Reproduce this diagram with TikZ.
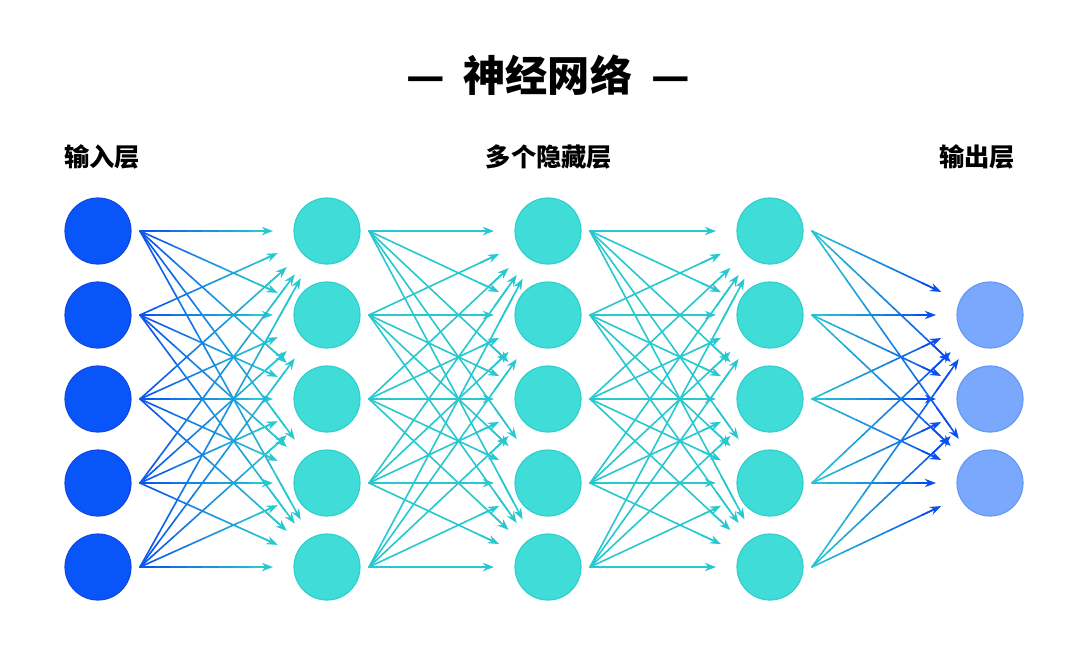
\documentclass[tikz,border=0pt]{standalone}
\usepackage{fontspec}
\newfontfamily\cjk{Noto Sans CJK SC}
\usepackage{xcolor}
\usepackage{tikz}
\usetikzlibrary{arrows.meta,calc}

\definecolor{inblue}{RGB}{8,86,250}
\definecolor{inedge}{RGB}{20,70,230}
\definecolor{hidfill}{RGB}{64,220,216}
\definecolor{hidedge}{RGB}{48,206,204}
\definecolor{outfill}{RGB}{122,168,252}
\definecolor{outedge}{RGB}{98,152,246}
\definecolor{arrblue}{RGB}{10,80,240}
\definecolor{arrcyan}{RGB}{40,200,208}

% gradient arrow: #1 from node, #2 to node, #3 start colour, #4 end colour
\newcommand{\gradarrow}[4]{%
  \coordinate (ga-s) at ($(#1)+(42,0)$);
  \coordinate (ga-e) at ($(#2)!1.35cm!(ga-s)$);
  \coordinate (ga-m) at ($(ga-s)!0.94!(ga-e)$);
  \foreach \k in {0,...,7}{
    \pgfmathtruncatemacro\pct{100*(\k+0.5)/8}
    \draw[wire, #4!\pct!#3] ($(ga-s)!\k/8!(ga-m)$) -- ($(ga-s)!{(\k+1)/8}!(ga-m)$);
  }
  \draw[wire, line cap=butt, #4, -{Stealth[length=2.8mm,width=2.1mm]}] ($(ga-s)!0.85!(ga-e)$) -- (ga-e);
}

\begin{document}
\begin{tikzpicture}[
  x=0.025cm, y=-0.025cm,
  wire/.style={line width=1.15pt, line cap=round},
  neuron/.style={circle, minimum size=1.65cm, inner sep=0pt, line width=0.8pt},
  inn/.style={neuron, fill=inblue, draw=inedge},
  hid/.style={neuron, fill=hidfill, draw=hidedge},
  outn/.style={neuron, fill=outfill, draw=outedge},
  title/.style={font=\cjk\bfseries\fontsize{30}{34}\selectfont},
  layer/.style={font=\cjk\bfseries\fontsize{18}{22}\selectfont},
]
  \useasboundingbox (0,0) rectangle (1080,653);
  % TITLES
  \node[title] (title) at (548,75) {—\hspace{0.45em}神经网络\hspace{0.45em}—};
  \node[layer] (l-in)  at (102,157) {输入层};
  \node[layer] (l-hid) at (549,157) {多个隐藏层};
  \node[layer] (l-out) at (977,157) {输出层};
  % NEURONS
  \foreach \r/\y in {1/231,2/315,3/399,4/483,5/567}{
    \node[inn] (in\r) at (98,\y) {};
    \node[hid] (ha\r) at (327,\y) {};
    \node[hid] (hb\r) at (548,\y) {};
    \node[hid] (hc\r) at (770,\y) {};
  }
  \foreach \r/\y in {1/315,2/399,3/483}{
    \node[outn] (out\r) at (990,\y) {};
  }
  % CONNECTIONS
  \foreach \i in {1,...,5}{
    \foreach \j in {1,...,5}{
      \gradarrow{in\i}{ha\j}{arrblue}{arrcyan}
      \gradarrow{ha\i}{hb\j}{arrcyan}{arrcyan}
      \gradarrow{hb\i}{hc\j}{arrcyan}{arrcyan}
    }
    \foreach \j in {1,2,3}{
      \gradarrow{hc\i}{out\j}{arrcyan}{arrblue}
    }
  }
\end{tikzpicture}
\end{document}
